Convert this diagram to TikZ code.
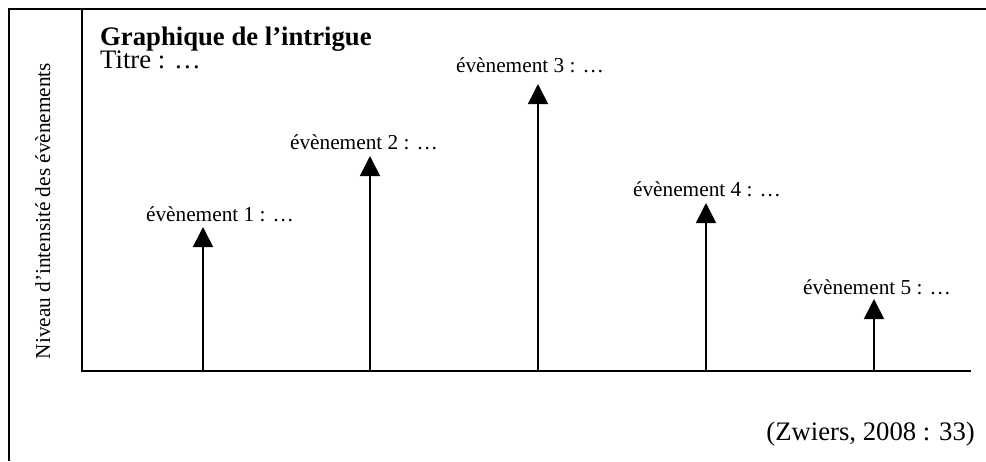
\documentclass[tikz,border=0pt]{standalone}
\usepackage{fontspec}
\setmainfont{Liberation Serif}
\usetikzlibrary{arrows.meta}
\tikzset{
	evlabel/.style = {anchor = base, inner sep = 0pt, font = \fontsize{21.3}{25}\selectfont},
	evarrow/.style = {line width = 1.6pt, -{Triangle[width = 20pt, length = 20pt]}},
	frame/.style   = {line width = 1.6pt}
}
\begin{document}
\begin{tikzpicture}[x = 1pt, y = -1pt]
					\useasboundingbox (0, 0) rectangle (986, 461);
					% outer frame and axes
					\draw[frame] (9, 461) -- (9, 9) -- (986, 9);
					\draw[frame] (82, 9) -- (82, 371) -- (971, 371);
					% titles
					\node[anchor = base west, inner sep = 0pt, font = \fontsize{26.7}{30}\selectfont\bfseries] (titre) at (100, 45) {Graphique de l’intrigue};
					\node[anchor = base west, inner sep = 0pt, font = \fontsize{26.7}{30}\selectfont] (soustitre) at (100, 68) {Titre : …};
					\node[evlabel, rotate = 90] (niveau) at (50, 211) {Niveau d’intensité des évènements};
					% the events
					\coordinate (b1) at (203, 371); \coordinate (t1) at (203, 227);
					\coordinate (b2) at (370, 371); \coordinate (t2) at (370, 156);
					\coordinate (b3) at (538, 371); \coordinate (t3) at (538, 84);
					\coordinate (b4) at (706, 371); \coordinate (t4) at (706, 203);
					\coordinate (b5) at (874, 371); \coordinate (t5) at (874, 299);
					\draw[evarrow] (b1) -- (t1);
					\draw[evarrow] (b2) -- (t2);
					\draw[evarrow] (b3) -- (t3);
					\draw[evarrow] (b4) -- (t4);
					\draw[evarrow] (b5) -- (t5);
					\node[evlabel] (ev1) at (220, 221) {évènement 1 : …};
					\node[evlabel] (ev2) at (364, 149) {évènement 2 : …};
					\node[evlabel] (ev3) at (530, 72)  {évènement 3 : …};
					\node[evlabel] (ev4) at (707, 196) {évènement 4 : …};
					\node[evlabel] (ev5) at (877, 294) {évènement 5 : …};
					% source
					\node[anchor = base east, inner sep = 0pt, font = \fontsize{26.7}{30}\selectfont] (source) at (975, 440) {(Zwiers, 2008 : 33)};
				\end{tikzpicture}
\end{document}
